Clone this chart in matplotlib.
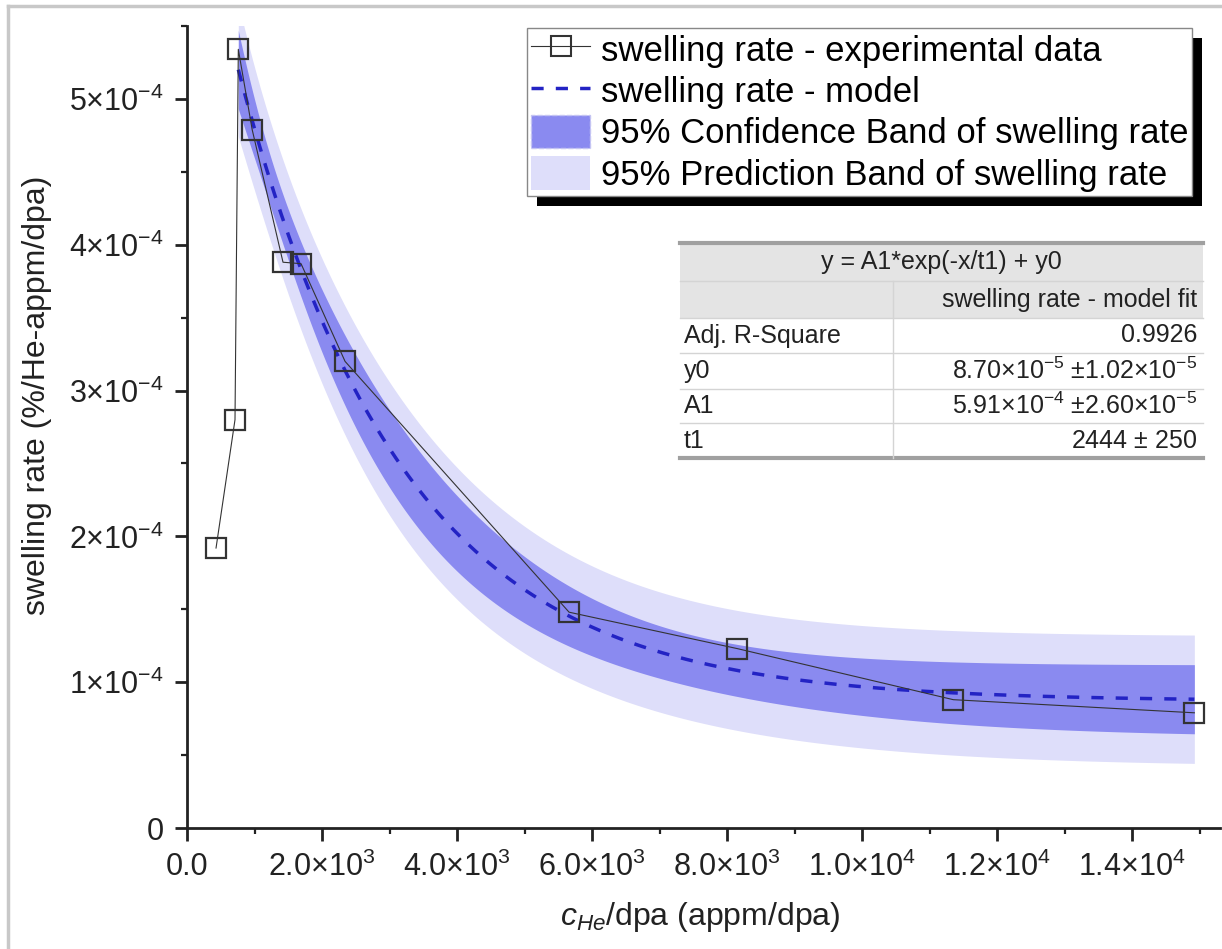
import numpy as np
import matplotlib.pyplot as plt
from matplotlib.lines import Line2D
from matplotlib.patches import Patch, Rectangle
from matplotlib.ticker import FixedLocator, MultipleLocator

plt.rcParams['font.family'] = ['Liberation Sans', 'DejaVu Sans']
plt.rcParams['mathtext.fontset'] = 'custom'
plt.rcParams['mathtext.rm'] = 'Liberation Sans'
plt.rcParams['mathtext.it'] = 'Liberation Sans:italic'
plt.rcParams['mathtext.bf'] = 'Liberation Sans:bold'

# measured swelling rate against He/dpa ratio
c_he = [430, 711, 760, 965, 1422, 1689, 2341, 5659, 8153, 11350, 14920]
rate = [1.92e-4, 2.80e-4, 5.34e-4, 4.79e-4, 3.88e-4, 3.87e-4, 3.20e-4,
        1.48e-4, 1.23e-4, 0.88e-4, 0.79e-4]

# exponential decay fit y = A1*exp(-x/t1) + y0, fitted from the peak on
fit_from = 2
y0, y0_err = 8.70e-5, 1.02e-5
A1, A1_err = 5.91e-4, 2.60e-5
t1, t1_err = 2444, 250
adj_r2 = 0.9926
t_crit = 2.447  # 95 %, 6 degrees of freedom

x_ticks = [0, 2000, 4000, 6000, 8000, 10000, 12000, 14000]
x_tick_labels = ['0.0', r'$2.0{\times}10^3$', r'$4.0{\times}10^3$', r'$6.0{\times}10^3$',
                 r'$8.0{\times}10^3$', r'$1.0{\times}10^4$', r'$1.2{\times}10^4$',
                 r'$1.4{\times}10^4$']
y_ticks = [0, 1e-4, 2e-4, 3e-4, 4e-4, 5e-4]
y_tick_labels = ['0', r'$1{\times}10^{-4}$', r'$2{\times}10^{-4}$', r'$3{\times}10^{-4}$',
                 r'$4{\times}10^{-4}$', r'$5{\times}10^{-4}$']

conf_color = '#8a8af0'
pred_color = '#dedefa'
model_color = '#2323c4'
data_color = '#333333'
text_color = '#222222'


def model(x):
    return A1 * np.exp(-x / t1) + y0


def grad(x):
    e = np.exp(-x / t1)
    return np.column_stack([np.ones_like(x), e, A1 * x / t1 ** 2 * e])


# bands from the parameter errors, correlations taken from the fitted points
xf = np.array(c_he[fit_from:], dtype=float)
yf = np.array(rate[fit_from:])
inv = np.linalg.inv(grad(xf).T @ grad(xf))
d = np.sqrt(np.diag(inv))
se = np.array([y0_err, A1_err, t1_err])
cov = inv / np.outer(d, d) * np.outer(se, se)
s2 = (1 - adj_r2) * np.var(yf, ddof=1)

xm = np.linspace(c_he[fit_from], c_he[-1], 400)
G = grad(xm)
var_fit = np.einsum('ij,jk,ik->i', G, cov, G)
ym = model(xm)
conf = t_crit * np.sqrt(var_fit)
pred = t_crit * np.sqrt(var_fit + s2)

W, H = 1222, 949
fig = plt.figure(figsize=(W / 100, H / 100), dpi=100)


def fx(px):
    return px / W


def fy(py):
    return 1 - py / H


ax = fig.add_axes([fx(187), fy(828), fx(1220) - fx(187), fy(26) - fy(828)])
ax.patch.set_visible(False)

ax.fill_between(xm, ym - pred, ym + pred, color=pred_color, lw=0, zorder=1)
ax.fill_between(xm, ym - conf, ym + conf, color=conf_color, lw=0, zorder=2)
ax.plot(xm, ym, color=model_color, lw=2.5, ls=(0, (3.5, 3.5)), zorder=3)
ax.plot(c_he, rate, color=data_color, lw=0.8, marker='s', ms=14, mfc='none',
        mec=data_color, mew=1.6, zorder=4)

ax.set_xlim(0, 15300)
ax.set_ylim(0, 5.5e-4)
for side in ('top', 'right'):
    ax.spines[side].set_visible(False)
for side in ('left', 'bottom'):
    ax.spines[side].set_linewidth(2)
    ax.spines[side].set_color(text_color)

ax.xaxis.set_major_locator(FixedLocator(x_ticks))
ax.set_xticklabels(x_tick_labels)
ax.xaxis.set_minor_locator(MultipleLocator(1000))
ax.yaxis.set_major_locator(FixedLocator(y_ticks))
ax.set_yticklabels(y_tick_labels)
ax.yaxis.set_minor_locator(MultipleLocator(0.5e-4))
ax.tick_params(which='major', length=9, width=2, color=text_color, labelsize=22,
               labelcolor=text_color)
ax.tick_params(which='minor', length=4, width=1.6, color=text_color)
ax.tick_params(axis='x', pad=8)
ax.tick_params(axis='y', pad=8)

ax.set_xlabel(r'$c_{He}$/dpa (appm/dpa)', fontsize=23, color=text_color)
ax.set_ylabel('swelling rate (%/He-appm/dpa)', fontsize=23, color=text_color)
ax.xaxis.set_label_coords(0.497, -0.09)
ax.yaxis.set_label_coords(-0.131, 0.54)

handles = [
    Line2D([], [], color=data_color, lw=0.8, marker='s', ms=14, mfc='none',
           mec=data_color, mew=1.5),
    Line2D([], [], color=model_color, lw=2.5, ls=(0, (3.5, 3.5))),
    Patch(facecolor=conf_color, edgecolor='#c4c4f2', ls='--', lw=1),
    Patch(facecolor=pred_color, edgecolor='none'),
]
labels = ['swelling rate - experimental data', 'swelling rate - model',
          '95% Confidence Band of swelling rate', '95% Prediction Band of swelling rate']
leg = ax.legend(handles, labels, loc='upper left', bbox_to_anchor=(fx(527), fy(28)),
                bbox_transform=fig.transFigure, borderaxespad=0, fontsize=25,
                frameon=True, fancybox=False, framealpha=1, edgecolor='#888888',
                handlelength=1.7, handleheight=1.1, handletextpad=0.3,
                labelspacing=0.17, borderpad=0.12)
leg.get_frame().set_linewidth(1)
leg.set_zorder(6)

# drop shadow behind the legend
fig.canvas.draw()
bb = leg.get_window_extent().transformed(fig.transFigure.inverted())
ax.add_patch(Rectangle((bb.x0 + fx(10), bb.y0 - 10 / H), bb.width, bb.height,
                       transform=fig.transFigure, facecolor='black', edgecolor='none',
                       zorder=5.5, clip_on=False))


def sci(v):
    e = int(np.floor(np.log10(abs(v))))
    return r'$%.2f{\times}10^{%d}$' % (v / 10 ** e, e)


# fit results table
rows_y = [243, 281, 318, 353, 389, 423, 458]
t_left, t_mid, t_right = 680, 893, 1203
tsize = 18
ax.add_patch(Rectangle((fx(t_left), fy(rows_y[2])), fx(t_right) - fx(t_left),
                       fy(rows_y[0]) - fy(rows_y[2]), transform=fig.transFigure,
                       facecolor='#e4e4e4', edgecolor='none', zorder=5, clip_on=False))
ax.add_patch(Rectangle((fx(t_left), fy(rows_y[-1])), fx(t_right) - fx(t_left),
                       fy(rows_y[2]) - fy(rows_y[-1]), transform=fig.transFigure,
                       facecolor='white', edgecolor='none', zorder=5, clip_on=False))
for i, yy in enumerate(rows_y):
    edge = i in (0, len(rows_y) - 1)
    fig.add_artist(Line2D([fx(t_left), fx(t_right)], [fy(yy), fy(yy)],
                          color='#a0a0a0' if edge else '#d4d4d4',
                          lw=3 if edge else 1, zorder=6))
fig.add_artist(Line2D([fx(t_mid), fx(t_mid)], [fy(rows_y[1]), fy(rows_y[-1])],
                      color='#d4d4d4', lw=1, zorder=6))

table_rows = [
    ('Adj. R-Square', '%.4f' % adj_r2),
    ('y0', sci(y0) + r' $\pm$' + sci(y0_err)),
    ('A1', sci(A1) + r' $\pm$' + sci(A1_err)),
    ('t1', '%d $\\pm$ %d' % (t1, t1_err)),
]
fig.text(fx((t_left + t_right) / 2), fy((rows_y[0] + rows_y[1]) / 2),
         'y = A1*exp(-x/t1) + y0', ha='center', va='center', fontsize=tsize,
         color=text_color, zorder=7)
fig.text(fx(t_right - 6), fy((rows_y[1] + rows_y[2]) / 2), 'swelling rate - model fit',
         ha='right', va='center', fontsize=tsize, color=text_color, zorder=7)
for i, (name, val) in enumerate(table_rows):
    yc = fy((rows_y[i + 2] + rows_y[i + 3]) / 2)
    fig.text(fx(t_left + 4), yc, name, ha='left', va='center', fontsize=tsize,
             color=text_color, zorder=7)
    fig.text(fx(t_right - 6), yc, val, ha='right', va='center', fontsize=tsize,
             color=text_color, zorder=7)

# light grey border on the left and top
fig.add_artist(Line2D([fx(8), fx(8)], [0, fy(6)], color='#c8c8c8', lw=2.5))
fig.add_artist(Line2D([fx(8), 1], [fy(6), fy(6)], color='#c8c8c8', lw=2.5))

fig.savefig('out.png', dpi=100)
